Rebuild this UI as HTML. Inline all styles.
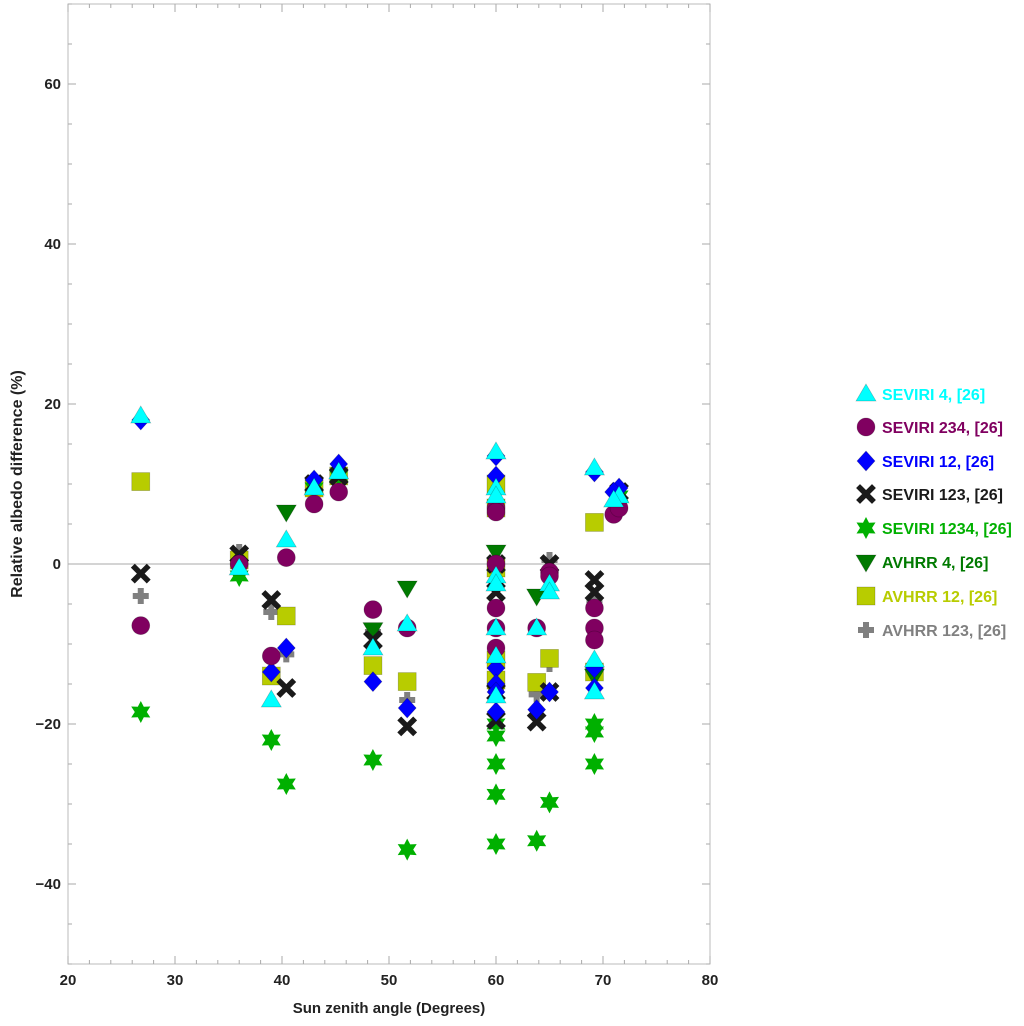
<!DOCTYPE html>
<html><head><meta charset="utf-8"><style>
body{margin:0;background:#fff}
svg text{font-family:"Liberation Sans",sans-serif}
</style></head><body>
<svg id="c" width="1024" height="1021" xmlns="http://www.w3.org/2000/svg"></svg>
<script>
const seriesNames=["SEVIRI 4, [26]","SEVIRI 234, [26]","SEVIRI 12, [26]","SEVIRI 123, [26]","SEVIRI 1234, [26]","AVHRR 4, [26]","AVHRR 12, [26]","AVHRR 123, [26]"];
const seriesColors=["#00ffff","#800060","#0000ff","#1a1a1a","#00b000","#007a00","#b8cc00","#808080"];
const seriesShapes=["tri","circle","diamond","x","star","dtri","square","cross"];
const s4x=[26.8,36,39,40.4,43,45.3,48.5,51.7,60,60,60,60,60,60,60,60,63.8,65,65,69.2,69.2,69.2,71.5,71];
const s4y=[18.5,-0.5,-17,3,9.5,11.5,-10.5,-7.5,14,9.5,8.5,-1.5,-2.5,-8,-11.5,-16.5,-8,-2.5,-3.5,12,-12,-16,8.5,8];
const s234x=[26.8,36,39,40.4,43,45.3,48.5,51.7,60,60,60,60,60,60,63.8,65,65,69.2,69.2,69.2,71,71.5];
const s234y=[-7.7,0,-11.5,0.8,7.5,9,-5.7,-8,7,6.5,0,-5.5,-8,-10.5,-8,-1,-1.5,-5.5,-8,-9.5,6.2,7];
const s12x=[26.8,36,39,40.4,43,45.3,48.5,51.7,60,60,60,60,60,60,63.8,65,69.2,69.2,69.2,71.5,71];
const s12y=[18,0,-13.5,-10.5,10.5,12.5,-14.7,-18,13.5,11,-13,-15,-16,-18.5,-18.2,-16,11.5,-13,-15.5,9.5,9];
const s123x=[26.8,36,39,40.4,43,45.3,48.5,51.7,60,60,60,60,63.8,65,65,69.2,69.2,71.5];
const s123y=[-1.2,1.2,-4.5,-15.5,10,11,-9.5,-20.3,0,-3.5,-16,-19.5,-19.7,0,-16,-2,-3.5,9];
const s1234x=[26.8,36,39,40.4,43,45.3,48.5,51.7,60,60,60,60,60,63.8,65,69.2,69.2,69.2,71.5];
const s1234y=[-18.5,-1.5,-22,-27.5,9.5,11,-24.5,-35.7,-20,-21.5,-25,-28.8,-35,-34.6,-29.8,-20,-21,-25,8.5];
const a4x=[40.4,48.5,51.7,60,63.8,69.2];
const a4y=[6.5,-8.2,-3,1.5,-4,-14];
const a12x=[26.8,36,39,40.4,43,45.3,48.5,51.7,60,60,60,60,60,63.8,65,69.2,69.2];
const a12y=[10.3,0.5,-14,-6.5,9.5,11,-12.7,-14.7,10,7,-0.5,-12,-14.5,-14.8,-11.8,5.2,-13.5];
const a123x=[26.8,36,39,40.4,48.5,51.7,60,63.8,65,65,69.2];
const a123y=[-4,1.5,-6,-11.3,-8.5,-17,-15.5,-16.3,0.5,-12.5,-4.5];
const xTicks=[20,30,40,50,60,70,80];
const yTicks=[-40,-20,0,20,40,60];
const allX=[s4x,s234x,s12x,s123x,s1234x,a4x,a12x,a123x];
const allY=[s4y,s234y,s12y,s123y,s1234y,a4y,a12y,a123y];

const L=68,R=710,T=4,B=964,X0=20,X1=80,Y0=-50,Y1=70;
const sx=v=>L+(v-X0)/(X1-X0)*(R-L);
const sy=v=>B-(v-Y0)/(Y1-Y0)*(B-T);
const svg=document.getElementById('c');
const NS="http://www.w3.org/2000/svg";
function mk(tag,at,parent){const e=document.createElementNS(NS,tag);for(const k in at)e.setAttribute(k,at[k]);(parent||svg).appendChild(e);return e;}

const frame=mk('rect',{x:L,y:T,width:R-L,height:B-T,fill:'none',stroke:'#bbb','stroke-width':1});


const zl=mk('line',{x1:L,x2:R,y1:sy(0),y2:sy(0),stroke:'#aaa','stroke-width':1});



const ax=mk('g',{});


for(let v=X0;v<=X1;v+=2){const maj=v%10===0;const len=maj?8:4;
 mk('line',{x1:sx(v),x2:sx(v),y1:B,y2:B-len,stroke:'#aaa'},ax);
 mk('line',{x1:sx(v),x2:sx(v),y1:T,y2:T+len,stroke:'#aaa'},ax);}
for(let v=Y0;v<=Y1;v+=5){const maj=v%20===0;const len=maj?8:4;
 mk('line',{x1:L,x2:L+len,y1:sy(v),y2:sy(v),stroke:'#aaa'},ax);
 mk('line',{x1:R,x2:R-len,y1:sy(v),y2:sy(v),stroke:'#aaa'},ax);}
xTicks.forEach(v=>{const t=mk('text',{x:sx(v),y:B+21,'text-anchor':'middle','font-size':15,'font-weight':'bold',fill:'#222'},ax);t.textContent=v;
 
 });
yTicks.forEach(v=>{const t=mk('text',{x:L-7,y:sy(v)+5,'text-anchor':'end','font-size':15,'font-weight':'bold',fill:'#222'},ax);t.textContent=v<0?'\u2212'+(-v):v;
 
 });
const xt=mk('text',{x:389,y:1013,'text-anchor':'middle','font-size':15,'font-weight':'bold',fill:'#222'});
xt.textContent='Sun zenith angle (Degrees)';


const yt=mk('text',{x:0,y:0,transform:'translate(22,484) rotate(-90)','text-anchor':'middle','font-size':16,'font-weight':'bold',fill:'#222'});
yt.textContent='Relative albedo difference (%)';



function marker(shape,cx,cy,col,g){
 const st={fill:col,stroke:shape==='x'||shape==='cross'?'none':'rgba(0,0,0,0.25)','stroke-width':0.7};
 let e;
 if(shape==='circle') e=mk('circle',Object.assign({cx,cy,r:9},st),g);
 else if(shape==='tri') e=mk('polygon',Object.assign({points:`${cx},${cy-10} ${cx+10},${cy+7} ${cx-10},${cy+7}`},st),g);
 else if(shape==='dtri') e=mk('polygon',Object.assign({points:`${cx},${cy+10} ${cx+10},${cy-7} ${cx-10},${cy-7}`},st),g);
 else if(shape==='diamond') e=mk('polygon',Object.assign({points:`${cx},${cy-10} ${cx+9},${cy} ${cx},${cy+10} ${cx-9},${cy}`},st),g);
 else if(shape==='square') e=mk('rect',Object.assign({x:cx-9,y:cy-9,width:18,height:18},st),g);
 else if(shape==='x'){e=mk('path',{d:`M${cx-6},${cy-6}L${cx+6},${cy+6}M${cx+6},${cy-6}L${cx-6},${cy+6}`,stroke:col,'stroke-width':5.5,'stroke-linecap':'square'},g);}
 else if(shape==='cross'){e=mk('path',{d:`M${cx-8},${cy}L${cx+8},${cy}M${cx},${cy-8}L${cx},${cy+8}`,stroke:col,'stroke-width':6},g);}
 else if(shape==='star'){let p=[];for(let i=0;i<12;i++){const a=Math.PI/6*i-Math.PI/2;const r=i%2?6:11;p.push((cx+r*Math.cos(a)).toFixed(1)+','+(cy+r*Math.sin(a)).toFixed(1));}
  e=mk('polygon',{points:p.join(' '),fill:col},g);}
 return e;
}
for(let s=7;s>=0;s--){
 const g=mk('g',{});
 
 
 allX[s].forEach((xv,i)=>{const m=marker(seriesShapes[s],sx(xv),sy(allY[s][i]),seriesColors[s],g);
  
  });
}
const lg=mk('g',{});


const legY=[394,427,461,494,528,562,596,630];
seriesNames.forEach((n,i)=>{
 const m=marker(seriesShapes[i],866,legY[i],seriesColors[i],lg);
 
 
 const t=mk('text',{x:882,y:legY[i]+6,'font-size':16,'font-weight':'bold',fill:seriesColors[i]},lg);
 t.textContent=n;
 
 
});
</script>
</body></html>
